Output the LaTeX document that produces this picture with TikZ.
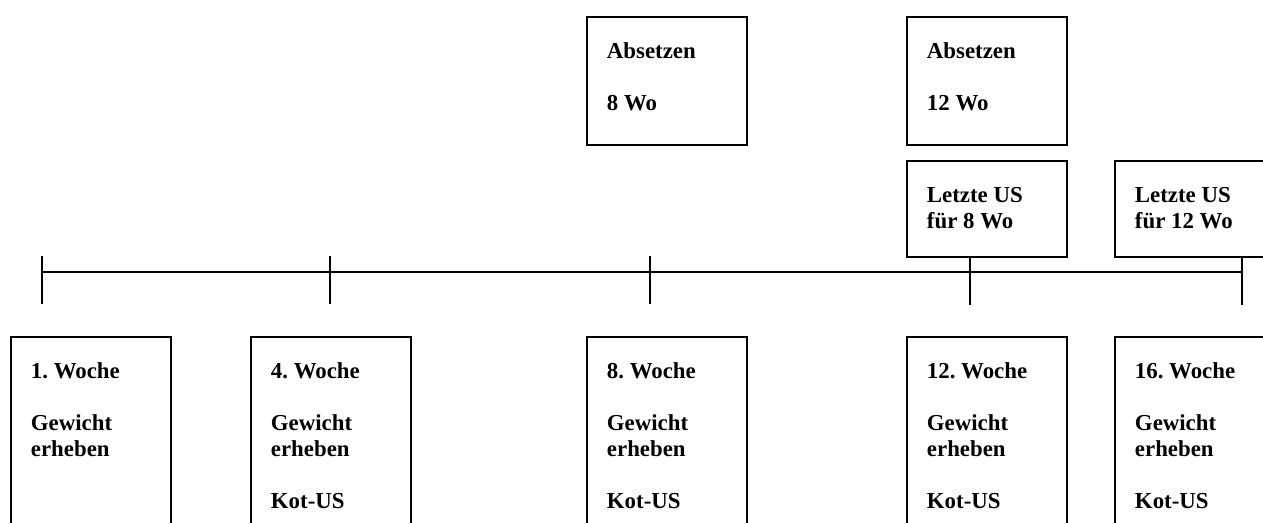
\documentclass[tikz,border=0pt]{standalone}
\usepackage{fontspec}
\setmainfont{Liberation Serif}
\usetikzlibrary{positioning}

\begin{document}
\begin{tikzpicture}[
    x=0.02cm, y=-0.02cm,
    line width=1.1pt,
    box/.style={
        draw, anchor=north west, align=flush left,
        text width=2.4cm, inner xsep=0.4cm, inner ysep=0pt,
        text height=0.84cm,
        font=\fontsize{13}{14.8}\selectfont\bfseries\frenchspacing
    },
    hochbox/.style={box, text depth=1.72cm},
    mittelbox/.style={box, text depth=1.08cm},
    wochebox/.style={box, text depth=3.6cm}
]
\clip (0,0) rectangle (1263,523);

% obere Reihe
\node[hochbox] (absetzenAcht) at (586,16) {Absetzen\\[14.8pt]8 Wo};
\node[hochbox] (absetzenZwoelf) at (906,16) {Absetzen\\[14.8pt]12 Wo};
\node[mittelbox] (letzteAcht) at (906,160) {Letzte US\\f\"ur 8 Wo};
\node[mittelbox] (letzteZwoelf) at (1114,160) {Letzte US\\f\"ur 12 Wo};

% Zeitachse
\coordinate (t1) at (42,272);
\coordinate (t2) at (330,272);
\coordinate (t3) at (650,272);
\coordinate (t4) at (970,272);
\coordinate (t5) at (1242,272);
\draw (t1) -- (t5);
\foreach \t in {t1,t2,t3}
    \draw (\t) ++(0,-16) -- ++(0,48);
\draw (t4 |- letzteAcht.south) -- ++(0,47);
\draw (t5 |- letzteZwoelf.south) -- ++(0,47);

% untere Reihe
\node[wochebox] (woche1) at (10,336) {1. Woche\\[14.8pt]Gewicht\\erheben};
\node[wochebox] (woche4) at (250,336) {4. Woche\\[14.8pt]Gewicht\\erheben\\[14.8pt]Kot-US};
\node[wochebox] (woche8) at (586,336) {8. Woche\\[14.8pt]Gewicht\\erheben\\[14.8pt]Kot-US};
\node[wochebox] (woche12) at (906,336) {12. Woche\\[14.8pt]Gewicht\\erheben\\[14.8pt]Kot-US};
\node[wochebox] (woche16) at (1114,336) {16. Woche\\[14.8pt]Gewicht\\erheben\\[14.8pt]Kot-US};

\end{tikzpicture}
\end{document}
